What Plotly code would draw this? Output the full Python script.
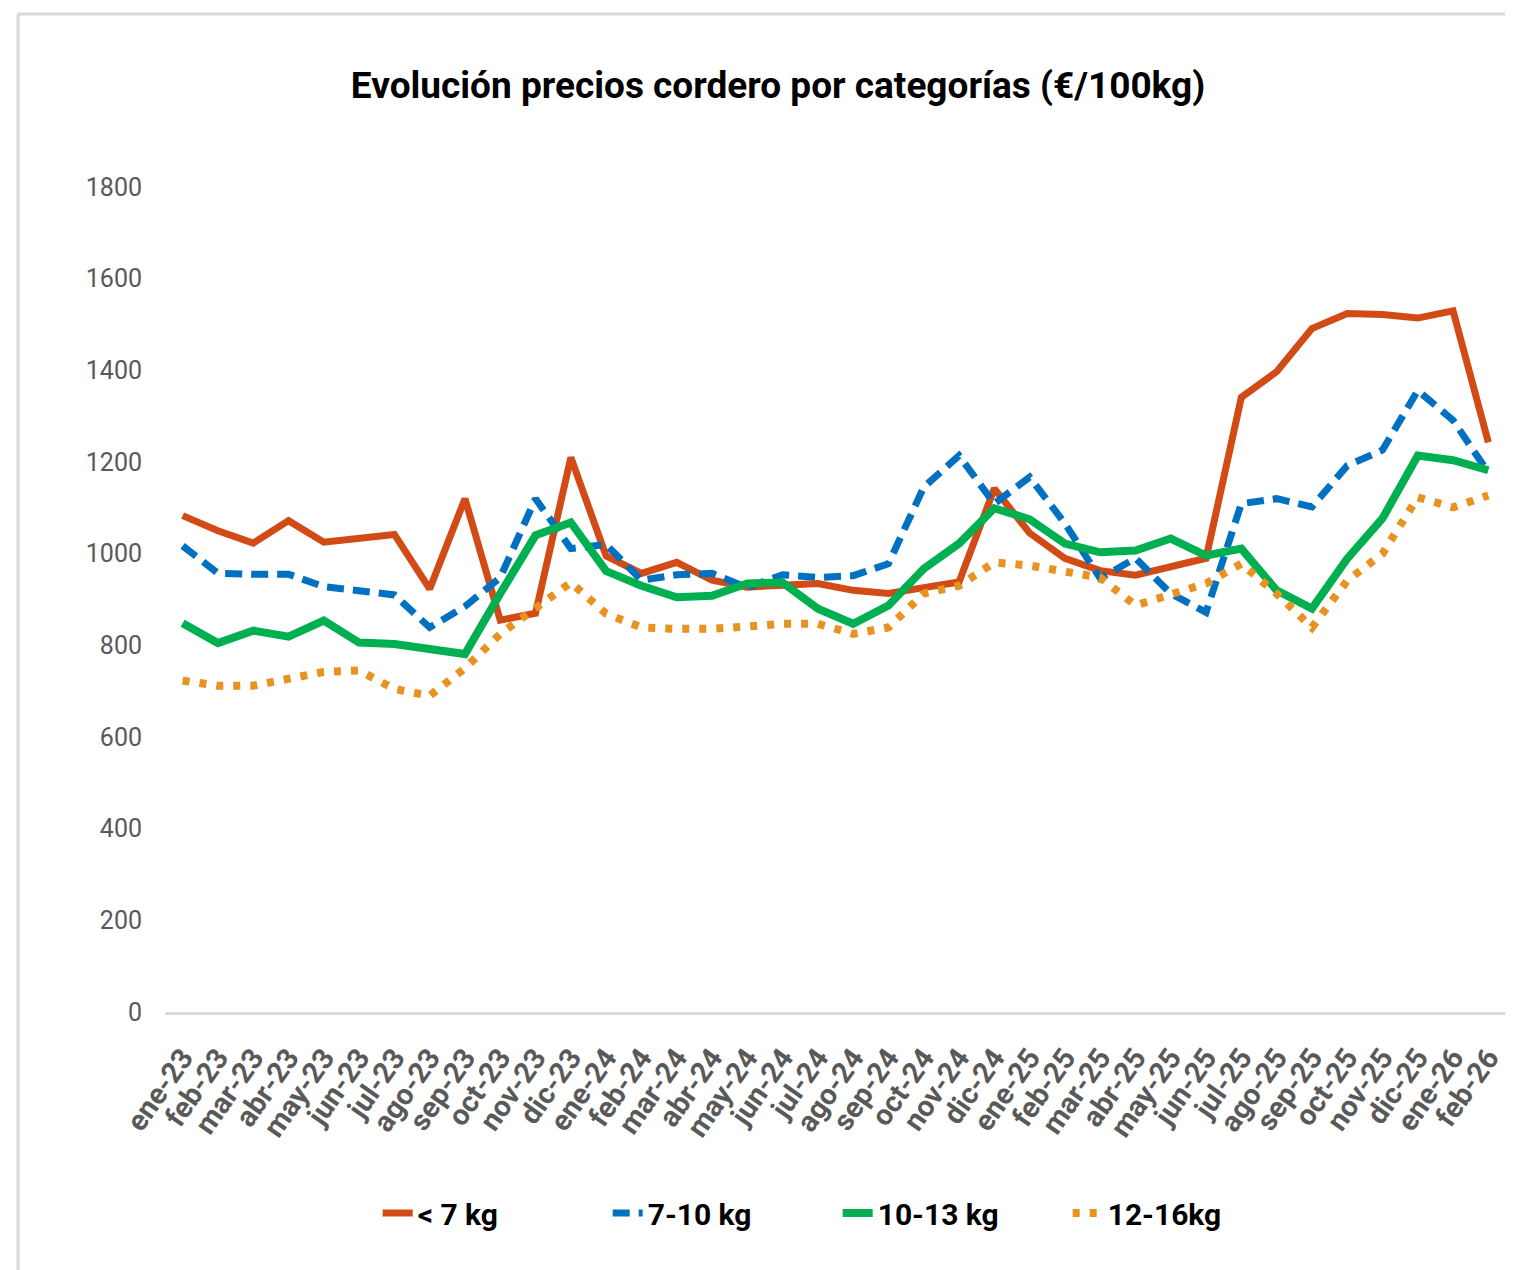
"""Evolución precios cordero por categorías (€/100kg)."""
import plotly.graph_objects as go

months = [
    "ene-23", "feb-23", "mar-23", "abr-23", "may-23", "jun-23",
    "jul-23", "ago-23", "sep-23", "oct-23", "nov-23", "dic-23",
    "ene-24", "feb-24", "mar-24", "abr-24", "may-24", "jun-24",
    "jul-24", "ago-24", "sep-24", "oct-24", "nov-24", "dic-24",
    "ene-25", "feb-25", "mar-25", "abr-25", "may-25", "jun-25",
    "jul-25", "ago-25", "sep-25", "oct-25", "nov-25", "dic-25",
    "ene-26", "feb-26",
]

menos_7kg = [
    1083, 1050, 1023, 1072, 1025, 1035, 1042, 923, 1120, 855, 870, 1210,
    995, 957, 981, 942, 927, 931, 935, 920, 913, 926, 938, 1142,
    1045, 990, 963, 953, 970, 990, 1341, 1397, 1491, 1524, 1522, 1514,
    1530, 1243,
]
de_7_10kg = [
    1017, 957, 955, 955, 928, 920, 910, 839, 885, 948, 1120, 1011,
    1020, 942, 954, 957, 926, 954, 948, 952, 978, 1145, 1214, 1109,
    1167, 1066, 946, 990, 913, 872, 1109, 1120, 1102, 1192, 1226, 1356,
    1291, 1177,
]
de_10_13kg = [
    848, 805, 832, 819, 854, 806, 803, 790, 781, 913, 1040, 1068,
    962, 930, 905, 908, 935, 937, 880, 847, 887, 967, 1022, 1099,
    1075, 1022, 1003, 1007, 1033, 996, 1011, 920, 880, 989, 1077, 1214,
    1204, 1182,
]
de_12_16kg = [
    723, 712, 712, 729, 742, 745, 705, 690, 750, 825, 883, 937,
    869, 839, 836, 836, 841, 847, 847, 825, 839, 913, 930, 981,
    974, 963, 948, 887, 913, 935, 978, 913, 839, 941, 1000, 1123,
    1101, 1127,
]

FONT = "Roboto, Liberation Sans, sans-serif"

series = [
    ("< 7 kg", menos_7kg, "#D24B16", "solid", 7),
    ("7-10 kg", de_7_10kg, "#0070C0", "17px,9px", 7),
    ("10-13 kg", de_10_13kg, "#00B050", "solid", 8),
    ("12-16kg", de_12_16kg, "#E8921F", "7px,10px", 8),
]

fig = go.Figure()
for name, values, color, dash, width in series:
    fig.add_trace(
        go.Scatter(
            x=months,
            y=values,
            name=name,
            mode="lines",
            line={"color": color, "width": width, "dash": dash},
        )
    )

# the page puts the figure 8px in from the top left corner
W, H = 1505, 1262
fig.update_layout(
    width=W,
    height=H,
    paper_bgcolor="white",
    plot_bgcolor="white",
    margin={"l": 157, "r": 7, "t": 179, "b": 258, "autoexpand": False},
    font={"family": FONT, "color": "#595959"},
    title={
        "text": "<b>Evolución precios cordero por categorías (€/100kg)</b>",
        "font": {"family": FONT, "size": 37, "color": "black"},
        "x": 770 / W,
        "xref": "container",
        "xanchor": "center",
        "y": 1 - 77 / H,
        "yref": "container",
        "yanchor": "middle",
    },
    legend={
        "orientation": "h",
        "x": 0.1586,
        "xanchor": "left",
        "y": -0.2436,
        "yanchor": "middle",
        "font": {"family": FONT, "size": 30, "color": "black", "weight": "bold"},
        "itemwidth": 30,
        "entrywidth": 185,
    },
    showlegend=True,
    shapes=[
        {
            "type": "line", "xref": "paper", "yref": "paper",
            "x0": -0.1096, "x1": 1.006, "y0": 1.2097, "y1": 1.2097,
            "line": {"color": "#D9D9D9", "width": 3},
        },
        {
            "type": "line", "xref": "paper", "yref": "paper",
            "x0": -0.1096, "x1": -0.1096, "y0": 1.2097, "y1": -0.32,
            "line": {"color": "#D9D9D9", "width": 3},
        },
    ],
)

fig.update_xaxes(
    type="category",
    range=[-0.5, len(months) - 0.5],
    showgrid=False,
    showline=True,
    linecolor="#D9D9D9",
    linewidth=3,
    ticks="",
    tickangle=-55,
    tickfont={"family": FONT, "size": 29, "color": "#595959", "weight": "bold"},
    ticklabelstandoff=14,
)
fig.update_yaxes(
    range=[0, 1800],
    dtick=200,
    showgrid=False,
    zeroline=False,
    showline=False,
    ticks="",
    tickfont={"family": FONT, "size": 25, "color": "#595959"},
    ticklabelstandoff=22,
)

fig.write_html("out.html")
